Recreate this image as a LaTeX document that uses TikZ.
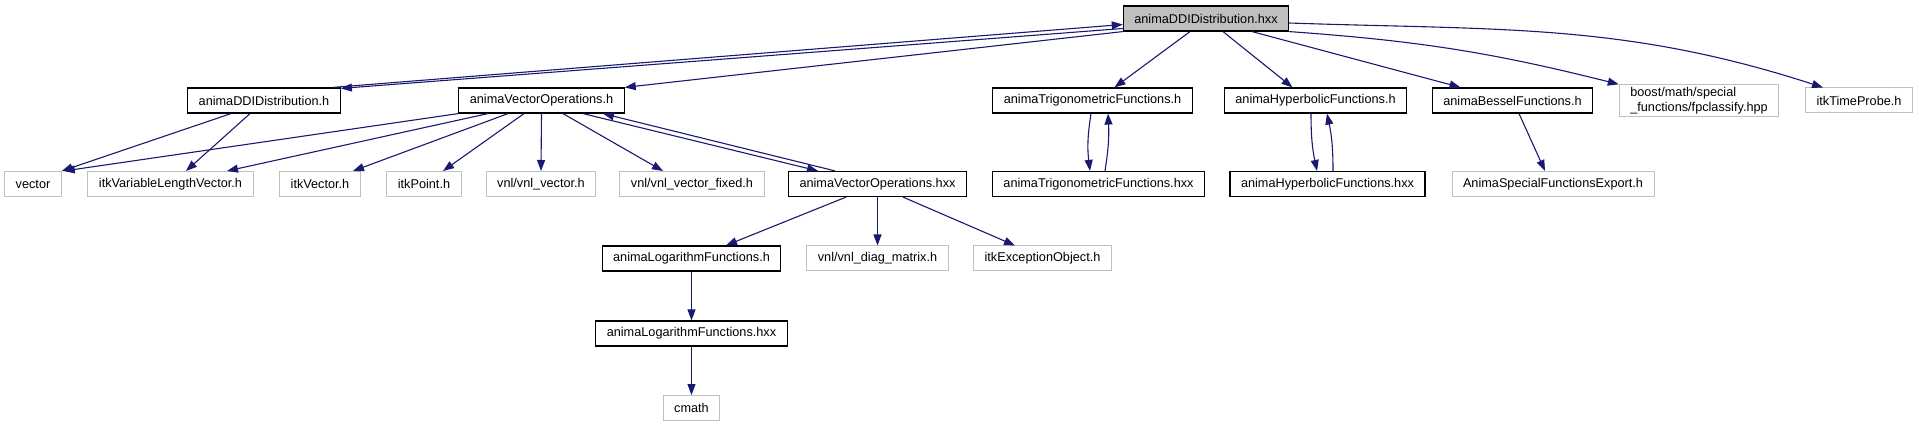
\documentclass[tikz,border=0pt]{standalone}
\usepackage{fontspec}
\setmainfont{Liberation Sans}
\usetikzlibrary{arrows.meta}
\definecolor{edgeblue}{HTML}{191970}
\definecolor{boxgray}{HTML}{BFBFBF}

\begin{document}
\begin{tikzpicture}[x=1pt, y=-1pt, font=\fontsize{12.7}{15.5}\selectfont,
        docnode/.style={draw=black, line width=1.2pt, minimum height=25pt, inner xsep=11pt, inner ysep=2pt},
        extnode/.style={draw=boxgray, line width=1pt, minimum height=25pt, inner xsep=11pt, inner ysep=2pt},
        rootnode/.style={docnode, fill=boxgray},
        dep/.style={draw=edgeblue, line width=1.1pt, -{Triangle[length=11pt, width=8pt]}}]
        \useasboundingbox (0, 0) rectangle (1919, 427);
        \node[rootnode] (root) at (1206, 18.5) {animaDDIDistribution.hxx}; % file itself
        % first level
        \node[docnode] (ddih) at (264, 100.5) {animaDDIDistribution.h};
        \node[docnode] (vech) at (541.5, 100.5) {animaVectorOperations.h};
        \node[docnode] (trigh) at (1092.5, 100.5) {animaTrigonometricFunctions.h};
        \node[docnode] (hyph) at (1315.5, 100.5) {animaHyperbolicFunctions.h};
        \node[docnode] (besh) at (1512.5, 100.5) {animaBesselFunctions.h};
        \node[extnode, align=left] (boost) at (1699, 100.5) {boost/math/special\\\_functions/fpclassify.hpp};
        \node[extnode] (probe) at (1859, 100.5) {itkTimeProbe.h};
        % second level
        \node[extnode] (vector) at (33, 184) {vector};
        \node[extnode] (varlen) at (170.5, 184) {itkVariableLengthVector.h};
        \node[extnode] (itkvec) at (320, 184) {itkVector.h};
        \node[extnode] (itkpoint) at (424, 184) {itkPoint.h};
        \node[extnode] (vnlvec) at (541, 184) {vnl/vnl\_vector.h};
        \node[extnode] (vnlfixed) at (692, 184) {vnl/vnl\_vector\_fixed.h};
        \node[docnode] (vechxx) at (877.5, 184) {animaVectorOperations.hxx};
        \node[docnode] (trighxx) at (1098.5, 184) {animaTrigonometricFunctions.hxx};
        \node[docnode] (hyphxx) at (1327.5, 184) {animaHyperbolicFunctions.hxx};
        \node[extnode] (export) at (1553, 184) {AnimaSpecialFunctionsExport.h};
        % third level and below
        \node[docnode] (logh) at (691.5, 258.5) {animaLogarithmFunctions.h};
        \node[extnode] (diag) at (877.5, 258.5) {vnl/vnl\_diag\_matrix.h};
        \node[extnode] (exc) at (1042.5, 258.5) {itkExceptionObject.h};
        \node[docnode] (loghxx) at (691.5, 333.5) {animaLogarithmFunctions.hxx};
        \node[extnode] (cmath) at (691.5, 408) {cmath};

        \draw[dep] ([yshift=-10pt]root.west) -- ([yshift=-1pt]ddih.north east); % hxx includes h
        \draw[dep] ([xshift=-8pt]ddih.north east) -- ([yshift=-6pt]root.west); % and back
        \draw[dep] (root.south west) -- (vech.north east);
        \draw[dep] ([xshift=-16pt]root.south) -- ([xshift=22pt]trigh.north);
        \draw[dep] ([xshift=17pt]root.south) -- ([xshift=-23pt]hyph.north);
        \draw[dep] ([xshift=46pt]root.south) -- ([xshift=-52pt]besh.north);
        \draw[dep] (root.south east) to[bend left=5] (boost.north west);
        \draw[dep] ([yshift=-4.5pt]root.east) to[out=-2, in=162] ([xshift=-36pt]probe.north);
        \draw[dep] ([xshift=-1.5pt]trigh.south) to[bend right=8] ([xshift=-8.5pt]trighxx.north); % h <-> hxx
        \draw[dep] ([xshift=6.5pt]trighxx.north) to[bend right=6] ([xshift=15.5pt]trigh.south);
        \draw[dep] ([xshift=-4.5pt]hyph.south) to[bend right=6] ([xshift=-10.5pt]hyphxx.north); % h <-> hxx
        \draw[dep] ([xshift=5.5pt]hyphxx.north) to[bend right=6] ([xshift=11.5pt]hyph.south);
        \draw[dep] ([xshift=6.5pt]besh.south) -- ([xshift=-8pt]export.north);
        \draw[dep] ([xshift=-33pt]ddih.south) -- (vector.north east);
        \draw[dep] ([xshift=-14pt]ddih.south) -- ([xshift=15.5pt]varlen.north);
        \draw[dep] (vech.south west) -- ([xshift=2pt]vector.north east);
        \draw[dep] ([xshift=-53.5pt]vech.south) -- ([xshift=56.5pt]varlen.north);
        \draw[dep] ([xshift=-33.5pt]vech.south) -- ([xshift=33pt]itkvec.north);
        \draw[dep] ([xshift=-17.5pt]vech.south) -- ([xshift=19pt]itkpoint.north);
        \draw[dep] (vech.south) -- (vnlvec.north);
        \draw[dep] ([xshift=21.5pt]vech.south) -- ([xshift=-29pt]vnlfixed.north);
        \draw[dep] ([xshift=41.5pt]vech.south) -- ([xshift=-59.5pt]vechxx.north); % h <-> hxx
        \draw[dep] ([xshift=-42.5pt]vechxx.north) -- ([xshift=61.5pt]vech.south);
        \draw[dep] ([xshift=-31.5pt]vechxx.south) -- ([xshift=34.5pt]logh.north);
        \draw[dep] (vechxx.south) -- (diag.north);
        \draw[dep] ([xshift=25.5pt]vechxx.south) -- ([xshift=-27.5pt]exc.north);
        \draw[dep] (logh.south) -- (loghxx.north);
        \draw[dep] (loghxx.south) -- (cmath.north);
    \end{tikzpicture}
\end{document}
